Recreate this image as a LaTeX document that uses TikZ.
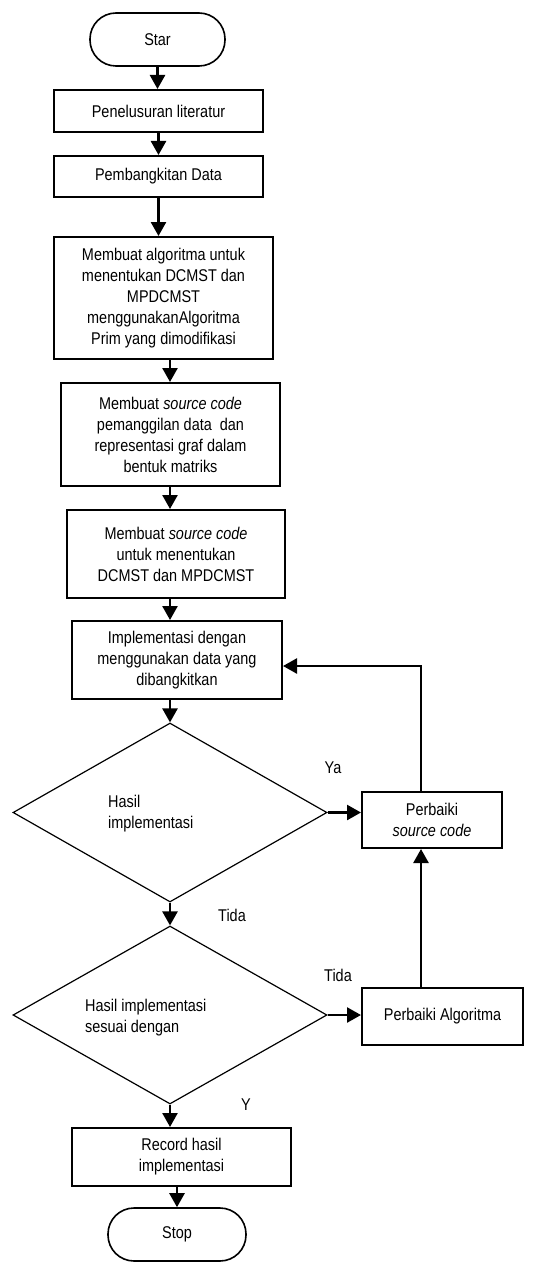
\documentclass[tikz,border=0pt]{standalone}
\usepackage{fontspec}
\setmainfont{Liberation Sans}[FakeStretch=0.85]
\usetikzlibrary{positioning,calc,shapes.geometric,arrows.meta}

\begin{document}
\begin{tikzpicture}[x=1pt,y=-1pt,>={Triangle[length=14pt,width=15pt]},
    font=\fontsize{17}{21}\selectfont,
    proc/.style={draw,line width=2pt,align=center,inner sep=0pt},
    term/.style={draw,line width=1.6pt,rounded corners=26pt,inner sep=0pt},
    decision/.style={draw,diamond,line width=1.2pt,inner sep=0pt},
    lbl/.style={inner sep=0pt},
    flow/.style={->,line width=2.5pt}]
        \useasboundingbox (0,0) rectangle (538,1268);
        % main column
        \node[term,minimum width=135pt,minimum height=53pt] (star) at (157.5,39.5) {Star};
        \node[proc,minimum width=209pt,minimum height=42pt] (lit) at (158.5,111) {Penelusuran literatur};
        \node[proc,minimum width=209pt,minimum height=41pt] (data) at (158.5,176.5) {Pembangkitan Data};
        \node[proc,minimum width=219pt,minimum height=122pt] (algo) at (163.5,298) {Membuat algoritma untuk\\menentukan DCMST dan\\MPDCMST\\menggunakanAlgoritma\\Prim yang dimodifikasi};
        \node[proc,minimum width=219pt,minimum height=103pt] (load) at (170.5,434.5) {Membuat \textit{source code}\\pemanggilan data\ \ dan\\representasi graf dalam\\bentuk matriks};
        \node[proc,minimum width=218pt,minimum height=88pt] (code) at (176,554) {Membuat \textit{source code}\\untuk menentukan\\DCMST dan MPDCMST};
        \node[proc,minimum width=210pt,minimum height=78pt] (impl) at (177,660) {Implementasi dengan\\menggunakan data yang\\dibangkitkan};
        \node[decision,minimum width=314pt,minimum height=179pt] (cek1) at (170,812.5) {};
        \node[lbl,align=left,anchor=west] (cek1txt) at (108,814) {Hasil\\implementasi};
        \node[decision,minimum width=314pt,minimum height=178pt] (cek2) at (170,1015) {};
        \node[lbl,align=left,anchor=west] (cek2txt) at (85,1017.5) {Hasil implementasi\\sesuai dengan};
        \node[proc,minimum width=219pt,minimum height=58pt] (record) at (181.5,1157) {Record hasil\\implementasi};
        \node[term,minimum width=138pt,minimum height=53pt] (stop) at (177,1234.5) {Stop};
        % repair column
        \node[proc,minimum width=140pt,minimum height=56pt] (fixcode) at (432,820) {Perbaiki\\\textit{source code}};
        \node[proc,minimum width=161pt,minimum height=57pt] (fixalgo) at (442.5,1016.5) {Perbaiki Algoritma};
        \coordinate (back) at (421,666);
        % answers
        \node[lbl] (ya) at (333,768) {Ya};
        \node[lbl] (tida1) at (232,915) {Tida};
        \node[lbl] (tida2) at (338,975) {Tida};
        \node[lbl] (y) at (246,1105) {Y};
        % connectors
        \draw[flow] (star.south) -- (star.south |- lit.north);
        \draw[flow] (lit.south) -- (lit.south |- data.north);
        \draw[flow] (data.south) -- (data.south |- algo.north);
        \draw[flow] (algo.south -| cek1.north) -- (load.north -| cek1.north);
        \draw[flow] (load.south -| cek1.north) -- (code.north -| cek1.north);
        \draw[flow] (code.south -| cek1.north) -- (impl.north -| cek1.north);
        \draw[flow] (impl.south -| cek1.north) -- (cek1.north);
        \draw[flow] (cek1.south) -- (cek2.north);
        \draw[flow] (cek2.south) -- (cek2.south |- record.north);
        \draw[flow] (record.south -| stop.north) -- (stop.north);
        \draw[flow] (cek1.east) -- (cek1.east -| fixcode.west);
        \draw[flow] (cek2.east) -- (cek2.east -| fixalgo.west);
        \draw[flow] (fixalgo.north -| back) -- (fixcode.south -| back);
        \draw[flow] (fixcode.north -| back) -- (back) -- (back -| impl.east);
\end{tikzpicture}
\end{document}
